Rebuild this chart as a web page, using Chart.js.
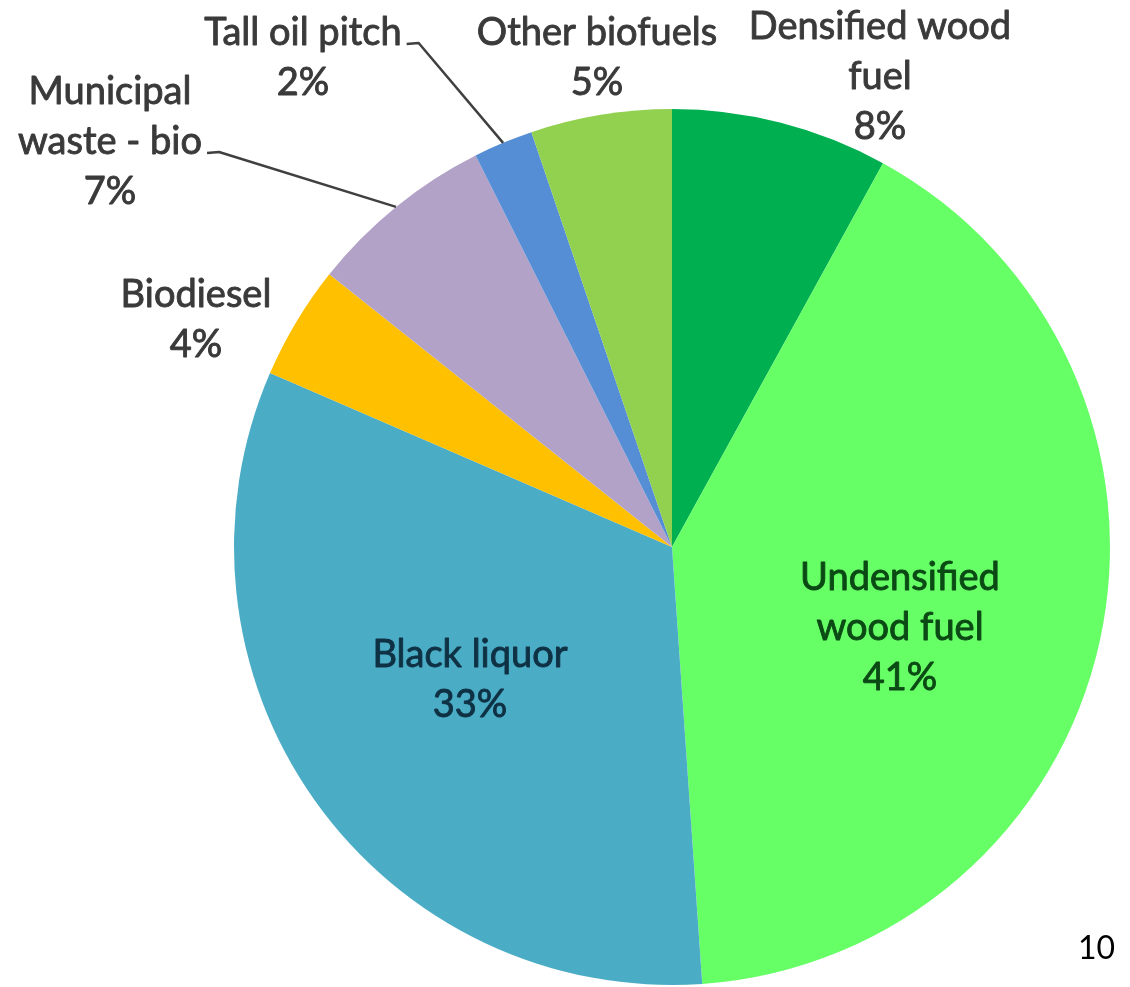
<!DOCTYPE html>
<html>
<head>
<meta charset="utf-8">
<script src="https://cdn.jsdelivr.net/npm/chart.js@4.4.0/dist/chart.umd.min.js"></script>
<style>
  html, body { margin: 0; padding: 0; background: #fff; }
  #wrap { position: relative; width: 1130px; height: 987px; overflow: hidden; }
  #numPagina { position: absolute; left: 1078px; top: 927px; font: 32px Lato, "Open Sans", sans-serif; color: #000; }
</style>
</head>
<body>
<div id="wrap">
  <canvas id="graficoBio"></canvas>
  <div id="numPagina">10</div>
</div>
<script>
// Datos del gráfico (porcentaje de cada combustible)
const categorias = [
  "Densified wood\nfuel",
  "Undensified\nwood fuel",
  "Black liquor",
  "Biodiesel",
  "Municipal\nwaste - bio",
  "Tall oil pitch",
  "Other biofuels"
];
const porcentajes = [8, 40.9, 32.6, 4.2, 6.9, 2.2, 5.2];
const colores = ["#00b050", "#66ff66", "#4bacc6", "#ffc000", "#b3a2c7", "#558ed5", "#92d050"];

// Colocación de las etiquetas (centro x, y de la primera línea)
const posEtiquetas = [
  { x: 880, y: 27, color: "#3a3a3a" },
  { x: 900, y: 578, color: "#0b4a14" },
  { x: 470, y: 655, color: "#0f3144" },
  { x: 196, y: 295, color: "#3a3a3a" },
  { x: 110, y: 92, color: "#3a3a3a" },
  { x: 303, y: 33, color: "#3a3a3a" },
  { x: 597, y: 33, color: "#3a3a3a" }
];
// Líneas guía: índice de la porción y línea de texto de donde salen
const guias = [
  { indice: 4, linea: 1 },
  { indice: 5, linea: 0 }
];

const FUENTE = "38px Lato, 'Open Sans', sans-serif";
const INTERLINEA = 50;

const pluginEtiquetas = {
  id: "etiquetas",
  afterDatasetsDraw(chart) {
    const ctx = chart.ctx;
    const arcos = chart.getDatasetMeta(0).data;
    ctx.save();
    ctx.font = FUENTE;
    ctx.textAlign = "center";
    ctx.textBaseline = "middle";
    ctx.lineJoin = "round";

    categorias.forEach((cat, i) => {
      const lineas = cat.split("\n").concat([Math.round(porcentajes[i]) + "%"]);
      const p = posEtiquetas[i];
      ctx.fillStyle = p.color;
      ctx.strokeStyle = p.color;
      ctx.lineWidth = 0.9;
      lineas.forEach((t, k) => {
        ctx.fillText(t, p.x, p.y + k * INTERLINEA);
        ctx.strokeText(t, p.x, p.y + k * INTERLINEA);
      });
    });

    // Líneas guía hacia el borde de la porción
    ctx.strokeStyle = "#404040";
    ctx.lineWidth = 2.5;
    guias.forEach((g) => {
      const arco = arcos[g.indice];
      const p = posEtiquetas[g.indice];
      const texto = categorias[g.indice].split("\n")[g.linea];
      const ancho = ctx.measureText(texto).width;
      const x0 = p.x + ancho / 2 + 5;
      const y0 = p.y + g.linea * INTERLINEA + 11;
      const medio = (arco.startAngle + arco.endAngle) / 2;
      const x1 = arco.x + Math.cos(medio) * arco.outerRadius;
      const y1 = arco.y + Math.sin(medio) * arco.outerRadius;
      ctx.beginPath();
      ctx.moveTo(x0, y0);
      ctx.lineTo(x0 + 12, y0 - 1);
      ctx.lineTo(x1, y1);
      ctx.stroke();
    });
    ctx.restore();
  }
};

const ctx = document.getElementById("graficoBio").getContext("2d");
new Chart(ctx, {
  type: "pie",
  data: {
    labels: categorias,
    datasets: [{
      data: porcentajes,
      backgroundColor: colores,
      borderWidth: 0,
      hoverOffset: 0
    }]
  },
  options: {
    responsive: true,
    maintainAspectRatio: false,
    animation: false,
    layout: { padding: { left: 234, top: 109, right: 20, bottom: 2 } },
    plugins: {
      legend: { display: false },
      tooltip: { enabled: false }
    }
  },
  plugins: [pluginEtiquetas]
});
</script>
</body>
</html>
